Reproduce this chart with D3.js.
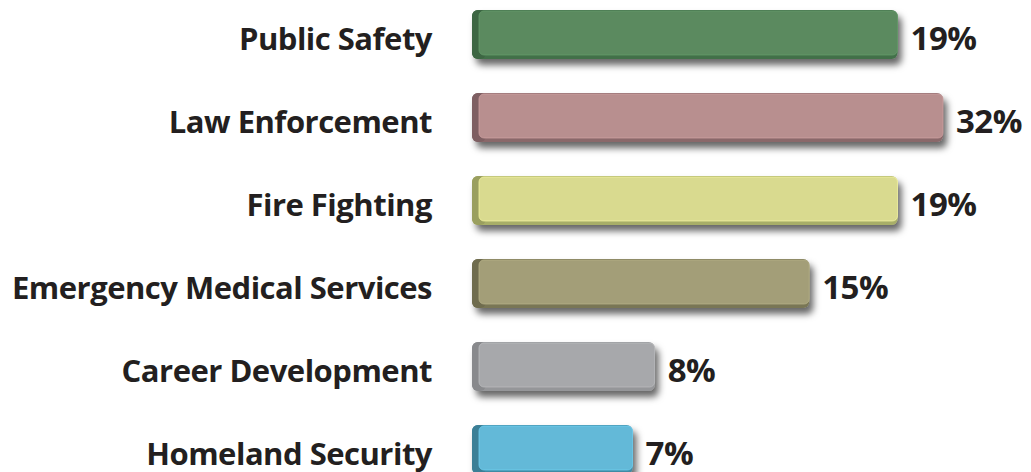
<!DOCTYPE html>
<html>
<head>
<meta charset="utf-8">
<script src="https://cdn.jsdelivr.net/npm/d3@7"></script>
<style>
  html, body { margin: 0; padding: 0; background: #fff; }
  svg { display: block; }
</style>
</head>
<body>
<div id="chart"></div>
<script>
const categories = ["Public Safety", "Law Enforcement", "Fire Fighting", "Emergency Medical Services", "Career Development", "Homeland Security"];
const values = [19, 32, 19, 15, 8, 7];
const faceColors = ["#5b8a5f", "#b88f8f", "#d9da8f", "#a39e78", "#a7a8ab", "#63b9d8"];
const capColors  = ["#3d6643", "#7e5f62", "#9a9f5f", "#6f6c4e", "#88898c", "#3b7f96"];

const W = 1031, H = 472;
const svg = d3.select("#chart").append("svg")
  .attr("width", W).attr("height", H);

// soft drop shadow under each bar
const defs = svg.append("defs");
defs.append("filter")
    .attr("id", "shadow")
    .attr("x", "-5%").attr("y", "-30%")
    .attr("width", "115%").attr("height", "170%")
  .append("feDropShadow")
    .attr("dx", 4).attr("dy", 6)
    .attr("stdDeviation", 3.5)
    .attr("flood-color", "#000")
    .attr("flood-opacity", 0.6);

// the original bar for 32% is cut off at the right, so the scale is clamped
const x = d3.scaleLinear()
  .domain([0, 21.06])
  .range([478, 943])
  .clamp(true);

const y = d3.scaleBand()
  .domain(categories)
  .range([10, 474])
  .paddingInner(0.41)
  .paddingOuter(0);

const data = categories.map((c, i) => ({ cat: c, v: values[i], face: faceColors[i], cap: capColors[i] }));

const bars = svg.selectAll("g.bar")
  .data(data)
  .enter().append("g")
    .attr("class", "bar");

const bh = y.bandwidth();

// body (dark edge + shadow)
bars.append("rect")
  .attr("x", x(0) - 6)
  .attr("y", d => y(d.cat))
  .attr("width", d => x(d.v) - x(0) + 6)
  .attr("height", bh)
  .attr("rx", 6)
  .attr("fill", d => d3.color(d.cap).brighter(0.25))
  .attr("filter", "url(#shadow)");

// left cap
bars.append("rect")
  .attr("x", x(0) - 6)
  .attr("y", d => y(d.cat))
  .attr("width", 14)
  .attr("height", bh)
  .attr("rx", 6)
  .attr("fill", d => d.cap);

// front face
bars.append("rect")
  .attr("x", x(0) + 1)
  .attr("y", d => y(d.cat) + 1)
  .attr("width", d => x(d.v) - x(0) - 1)
  .attr("height", bh - 5)
  .attr("rx", 5)
  .attr("fill", d => d.face)
  .attr("stroke", d => d3.color(d.face).brighter(0.3))
  .attr("stroke-width", 0.8);

const font = "'Open Sans', 'Noto Sans', sans-serif";

// category labels
svg.selectAll("text.cat")
  .data(data)
  .enter().append("text")
    .attr("class", "cat")
    .attr("x", 432)
    .attr("y", d => y(d.cat) + 40)
    .attr("text-anchor", "end")
    .style("font-family", font)
    .style("font-weight", "bold")
    .style("font-size", "31px")
    .style("letter-spacing", "-0.5px")
    .style("fill", "#231f20")
    .text(d => d.cat);

// value labels
svg.selectAll("text.val")
  .data(data)
  .enter().append("text")
    .attr("class", "val")
    .attr("x", d => x(d.v) + 13)
    .attr("y", d => y(d.cat) + 40)
    .style("font-family", font)
    .style("font-weight", "bold")
    .style("font-size", "33px")
    .style("letter-spacing", "-0.5px")
    .style("fill", "#231f20")
    .text(d => d.v + "%");
</script>
</body>
</html>
